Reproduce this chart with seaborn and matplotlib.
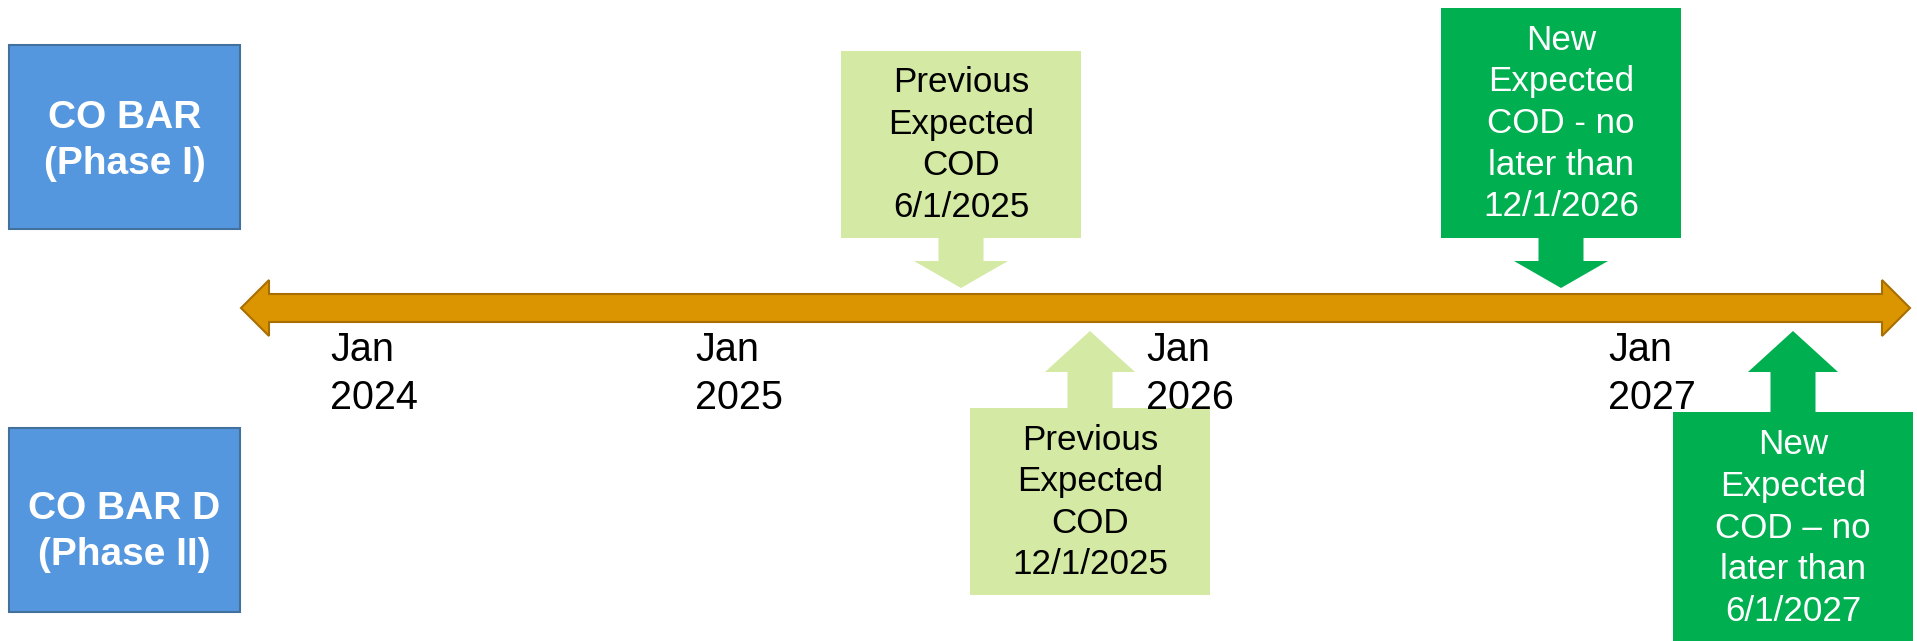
import matplotlib
matplotlib.use("Agg")
import matplotlib.pyplot as plt
from matplotlib.patches import Polygon, Rectangle
import seaborn as sns

# timeline content (x positions are in slide pixels)
phase_labels = ["CO BAR\n(Phase I)", "CO BAR D\n(Phase II)"]
year_labels = ["Jan\n2024", "Jan\n2025", "Jan\n2026", "Jan\n2027"]
year_pos = [330, 695, 1146, 1608]

milestone_text = [
    "Previous\nExpected\nCOD\n6/1/2025",
    "Previous\nExpected\nCOD\n12/1/2025",
    "New\nExpected\nCOD - no\nlater than\n12/1/2026",
    "New\nExpected\nCOD \u2013 no\nlater than\n6/1/2027",
]
milestone_pos = [961, 1090, 1561, 1793]
milestone_side = ["above", "below", "above", "below"]
milestone_kind = ["previous", "previous", "new", "new"]

sns.set_theme(style="white")
plt.rcParams["font.family"] = ["Liberation Sans", "DejaVu Sans"]

BLUE, BLUE_EDGE = "#5597DE", "#41719C"
ORANGE, ORANGE_EDGE = "#DA9500", "#A86E00"
KIND_STYLE = {
    "previous": {"face": "#D4E9A4", "text": "black", "height": 187},
    "new": {"face": "#00B050", "text": "white", "height": 230},
}

fig = plt.figure(figsize=(19.17, 6.41), dpi=100)
ax = fig.add_axes([0, 0, 1, 1])
ax.set_xlim(0, 1917)
ax.set_ylim(641, 0)
ax.axis("off")

# phase boxes on the left
for i, label in enumerate(phase_labels):
    top = 45 + i * 383
    ax.add_patch(Rectangle((9, top), 231, 184, facecolor=BLUE,
                           edgecolor=BLUE_EDGE, linewidth=1.5))
    ax.text(124.5, top + 96 + i * 8, label, color="white", fontsize=28,
            fontweight="bold", ha="center", va="center", linespacing=1.38)

# double headed timeline arrow
ymid, half_shaft, half_head = 308, 14, 28
x0, x1, head = 241, 1910, 28
pts = [(x0, ymid), (x0 + head, ymid - half_head), (x0 + head, ymid - half_shaft),
       (x1 - head, ymid - half_shaft), (x1 - head, ymid - half_head), (x1, ymid),
       (x1 - head, ymid + half_head), (x1 - head, ymid + half_shaft),
       (x0 + head, ymid + half_shaft), (x0 + head, ymid + half_head)]
ax.add_patch(Polygon(pts, closed=True, facecolor=ORANGE,
                     edgecolor=ORANGE_EDGE, linewidth=1.5))

for label, x in zip(year_labels, year_pos):
    ax.text(x, 374, label, fontsize=28.5, ha="left", va="center",
            color="black", linespacing=1.34)

# milestone callouts
for text, cx, side, kind in zip(milestone_text, milestone_pos,
                                milestone_side, milestone_kind):
    st = KIND_STYLE[kind]
    h = st["height"]
    if side == "above":
        box_bottom = 237.5
        box_top = box_bottom - h
        arrow = [(cx - 22.5, box_bottom), (cx - 22.5, 261), (cx - 47, 261),
                 (cx, 288), (cx + 47, 261), (cx + 22.5, 261),
                 (cx + 22.5, box_bottom)]
    else:
        box_top = 408 if kind == "previous" else 412
        arrow = [(cx - 22.5, box_top), (cx - 22.5, 372), (cx - 45, 372),
                 (cx, 331), (cx + 45, 372), (cx + 22.5, 372),
                 (cx + 22.5, box_top)]
    ax.add_patch(Rectangle((cx - 120, box_top), 240, h,
                           facecolor=st["face"], edgecolor="none"))
    ax.add_patch(Polygon(arrow, closed=True, facecolor=st["face"],
                         edgecolor="none"))
    ax.text(cx, box_top + h / 2 + 1, text, fontsize=25.2, ha="center",
            va="center", color=st["text"], linespacing=1.33)

fig.savefig("out.png", dpi=100, facecolor="white")
